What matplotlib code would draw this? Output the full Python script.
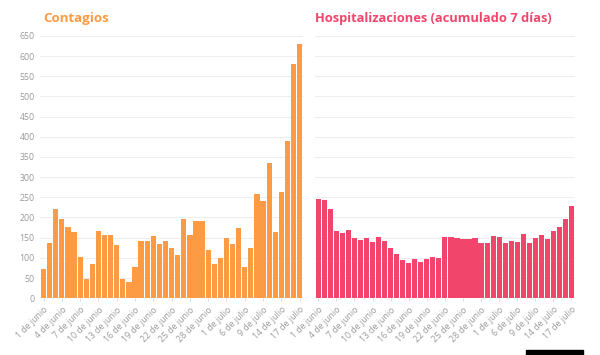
import numpy as np
import matplotlib.pyplot as plt
from matplotlib.patches import Rectangle

# daily values (43 days each)
contagios = [72, 138, 220, 196, 177, 165, 102, 48, 84, 167, 156, 156, 131, 48, 40,
             77, 142, 142, 154, 134, 142, 125, 107, 196, 157, 191, 191, 119, 85, 99,
             149, 134, 175, 77, 124, 258, 241, 335, 165, 263, 390, 581, 629]
hospitalizaciones = [245, 243, 222, 166, 162, 170, 148, 145, 149, 139, 151, 142, 125, 110, 95,
                     86, 98, 90, 98, 102, 100, 151, 151, 150, 146, 146, 150, 138, 138, 153,
                     151, 136, 142, 139, 158, 138, 150, 156, 146, 166, 176, 196, 229]
tick_labels = ['1 de junio', '4 de junio', '7 de junio', '10 de junio', '13 de junio',
               '16 de junio', '19 de junio', '22 de junio', '25 de junio', '28 de junio',
               '1 de julio', '6 de julio', '9 de julio', '14 de julio', '17 de julio']

orange = '#fd9a44'
pink = '#f2456c'
grey = '#9a9a9a'

plt.rcParams['font.family'] = ['Open Sans', 'DejaVu Sans']

fig = plt.figure(figsize=(6, 3.55), dpi=100)
ax1 = fig.add_axes([0.067, 0.16, 0.438, 0.739])
ax2 = fig.add_axes([0.525, 0.16, 0.433, 0.739])

x = np.arange(len(contagios))
for ax, vals, col in [(ax1, contagios, orange), (ax2, hospitalizaciones, pink)]:
    ax.bar(x, vals, width=0.86, color=col, zorder=2)
    ax.set_ylim(0, 650)
    ax.set_xlim(-0.55, len(vals) - 0.45)
    ax.set_yticks(np.arange(0, 651, 50))
    ax.grid(axis='y', color='#eeeeee', lw=0.8, zorder=0)
    for s in ax.spines.values():
        s.set_visible(False)
    ax.set_xticks(x[::3])
    ax.set_xticklabels(tick_labels, rotation=45, ha='right', rotation_mode='anchor',
                       fontsize=6.3, color=grey)
    ax.tick_params(axis='x', length=2, color='#dddddd', pad=3)
    ax.tick_params(axis='y', length=0, labelsize=6.3, labelcolor=grey, pad=4)

ax2.tick_params(axis='y', labelleft=False)

fig.text(0.072, 0.948, 'Contagios', color=orange, fontsize=9.5, fontweight='bold', va='center')
fig.text(0.525, 0.948, 'Hospitalizaciones (acumulado 7 días)', color=pink, fontsize=9.3,
         fontweight='bold', va='center')

fig.patches.append(Rectangle((0.877, 0.0), 0.095, 0.013, transform=fig.transFigure,
                             color='black', figure=fig))

fig.savefig('out.png', dpi=100)
